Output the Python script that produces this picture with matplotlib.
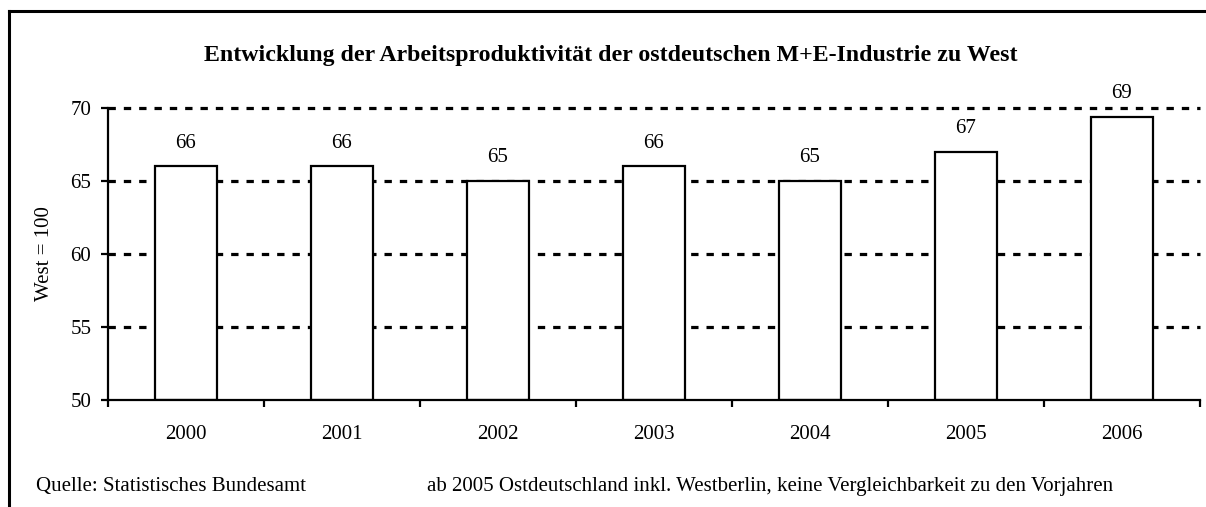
import matplotlib
matplotlib.use("Agg")
import matplotlib.pyplot as plt
from matplotlib.lines import Line2D
import numpy as np

years = ["2000", "2001", "2002", "2003", "2004", "2005", "2006"]
values = [66.0, 66.0, 65.0, 66.0, 65.0, 67.0, 69.4]
labels = ["66", "66", "65", "66", "65", "67", "69"]
yticks = [50, 55, 60, 65, 70]

plt.rcParams['font.family'] = ['Liberation Serif', 'DejaVu Serif']

W, H = 1206, 507
fig = plt.figure(figsize=(W / 100, H / 100), dpi=100)

def fx(px):
    return px / W

def fy(py):
    return 1 - py / H

FS = 15

ax = fig.add_axes([fx(108), fy(400), fx(1200) - fx(108), fy(108) - fy(400)])
x = np.arange(len(years))

for yv in [55, 60, 65, 70]:
    ax.axhline(yv, color='black', lw=2.3, linestyle=(0, (2.3, 2.5)), zorder=1,
               clip_on=False)

ax.bar(x, [v - 50 for v in values], bottom=50, width=0.4, facecolor='white',
       edgecolor='black', linewidth=1.6, zorder=2)

for xi, v, lab in zip(x, values, labels):
    ax.annotate(lab, (xi, v), xytext=(0, 10), textcoords='offset points',
                ha='center', va='bottom', fontsize=FS)

ax.set_xlim(-0.5, len(years) - 0.5)
ax.set_ylim(50, 70)
ax.set_yticks(yticks)
ax.set_yticklabels([str(t) for t in yticks])
ax.set_xticks(np.arange(-0.5, len(years)), minor=False)
ax.set_xticklabels([])
ax.set_xticks(x, minor=True)
ax.set_xticklabels(years, minor=True)
ax.tick_params(axis='x', which='major', direction='out', length=5, width=1.6)
ax.tick_params(axis='x', which='minor', length=0, pad=18, labelsize=FS)
ax.tick_params(axis='y', direction='out', length=5, width=1.6, pad=7, labelsize=FS)

for s in ['top', 'right']:
    ax.spines[s].set_visible(False)
for s in ['left', 'bottom']:
    ax.spines[s].set_linewidth(1.6)
    ax.spines[s].set_zorder(3)

fig.text(fx(45), fy(254), "West = 100", rotation=90, ha='center', va='center', fontsize=FS)

fig.text(fx(611), fy(55), "Entwicklung der Arbeitsproduktivität der ostdeutschen M+E-Industrie zu West",
         ha='center', va='center', fontsize=17.2, fontweight='bold')
fig.text(fx(36), fy(487), "Quelle: Statistisches Bundesamt", ha='left', va='center', fontsize=FS)
fig.text(fx(427), fy(487), "ab 2005 Ostdeutschland inkl. Westberlin, keine Vergleichbarkeit zu den Vorjahren",
         ha='left', va='center', fontsize=FS)

# outer frame (left and top visible)
fig.add_artist(Line2D([fx(9), fx(9)], [0, fy(11)], transform=fig.transFigure, color='black', lw=2.2))
fig.add_artist(Line2D([fx(9), 1.0], [fy(11), fy(11)], transform=fig.transFigure, color='black', lw=2.2))

fig.savefig("out.png", dpi=100)
